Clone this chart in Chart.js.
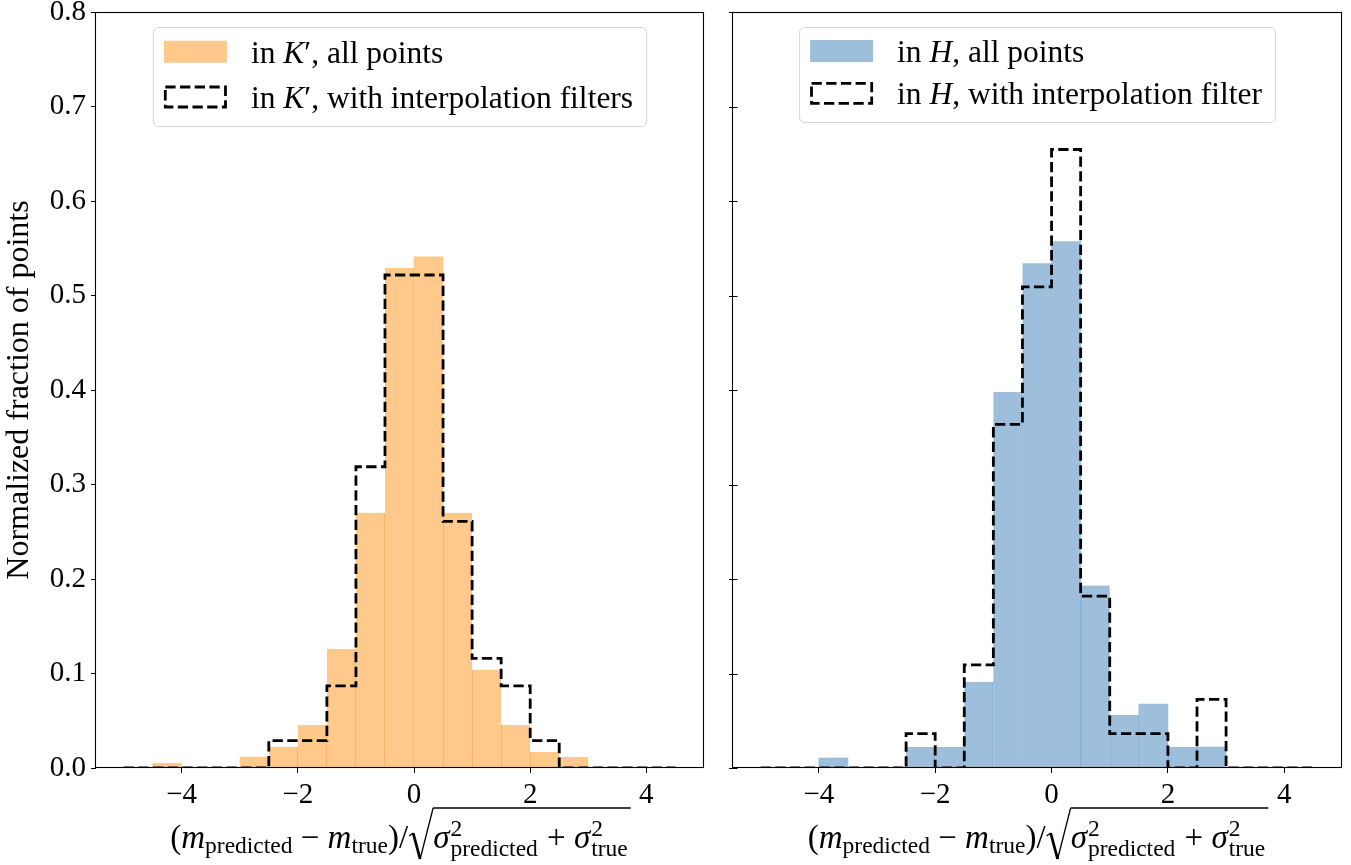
<!DOCTYPE html>
<html>
<head>
<meta charset="utf-8">
<script src="https://cdn.jsdelivr.net/npm/chart.js@4.4.1/dist/chart.umd.min.js"></script>
<style>
  html, body { margin: 0; padding: 0; background: #fff; }
  #wrap { position: relative; width: 1351px; height: 865px; }
  #c1 { position: absolute; left: 0; top: 0; }
  #c2 { position: absolute; left: 718px; top: 0; }
</style>
</head>
<body>
<div id="wrap">
  <canvas id="c1" width="718" height="865"></canvas>
  <canvas id="c2" width="633" height="865"></canvas>
</div>
<script>
// histogram bins (edges), ticks
var binEdges = [-5, -4.5, -4, -3.5, -3, -2.5, -2, -1.5, -1, -0.5, 0, 0.5, 1, 1.5, 2, 2.5, 3, 3.5, 4, 4.5];
var xTicks = [-4, -2, 0, 2, 4];
var yTicks = [0, 0.1, 0.2, 0.3, 0.4, 0.5, 0.6, 0.7, 0.8];

// K' band
var kAllPoints = [0, 0.005, 0, 0, 0.012, 0.0225, 0.0455, 0.126, 0.27, 0.529, 0.541, 0.27, 0.104, 0.0455, 0.017, 0.0116, 0, 0, 0];
var kFiltered  = [0, 0, 0, 0, 0, 0.029, 0.029, 0.087, 0.3188, 0.5217, 0.5217, 0.2609, 0.1159, 0.087, 0.029, 0, 0, 0, 0];

// H band
var hAllPoints = [0, 0, 0.0106, 0, 0, 0.0222, 0.0222, 0.091, 0.398, 0.534, 0.557, 0.193, 0.056, 0.0677, 0.0222, 0.0222, 0, 0, 0];
var hFiltered  = [0, 0, 0, 0, 0, 0.0364, 0, 0.1091, 0.3636, 0.5091, 0.6545, 0.1818, 0.0364, 0.0364, 0, 0.0727, 0, 0, 0];

// legend text pieces: [text, italic]
var kLegend = [
    [["in ", false], ["K", true], ["\u2032, all points", false]],
    [["in ", false], ["K", true], ["\u2032, with interpolation filters", false]]
];
var hLegend = [
    [["in ", false], ["H", true], [", all points", false]],
    [["in ", false], ["H", true], [", with interpolation filter", false]]
];

var yTitle = "Normalized fraction of points";
var FONT = '"Liberation Serif", "DejaVu Serif", serif';
var DASH = [10.3, 4.4];

function rm(s) { return s + "px " + FONT; }
function it(s) { return "italic " + s + "px " + FONT; }

// seam line between two neighbouring bars, as tall as the shorter one
function seams(vals) {
    return function (c) {
        var i = c.dataIndex, v = vals[i];
        var prev = i > 0 ? vals[i - 1] : 0;
        var next = i < vals.length - 1 ? vals[i + 1] : 0;
        return {
            top: 0, bottom: 0,
            left: (v > 0 && prev > 0 && v < prev) ? 1 : 0,
            right: (v > 0 && next > 0 && v <= next) ? 1 : 0
        };
    };
}

function drawXLabel(chart) {
    var ctx = chart.ctx, a = chart.chartArea;
    var F = 33, S = 23.5;
    var base = a.bottom + 80;
    var items = [
        { t: "(", f: rm(F) }, { t: "m", f: it(F) }, { t: "predicted", f: rm(S), dy: 5 },
        { t: " \u2212 ", f: rm(F) }, { t: "m", f: it(F) }, { t: "true", f: rm(S), dy: 5 },
        { t: ")/", f: rm(F) }, { rad: true, w: 25 },
        { t: "\u03c3", f: it(F) }, { sup: "2", sub: "predicted" },
        { t: " + ", f: rm(F) }, { t: "\u03c3", f: it(F) }, { sup: "2", sub: "true" }
    ];
    ctx.save();
    var total = 0;
    items.forEach(function (p) {
        if (p.rad) { p.width = p.w; }
        else if (p.sup) {
            ctx.font = rm(S);
            p.width = Math.max(ctx.measureText(p.sup).width, ctx.measureText(p.sub).width) + 2;
        } else {
            ctx.font = p.f;
            p.width = ctx.measureText(p.t).width;
        }
        total += p.width;
    });
    var x = (a.left + a.right) / 2 - total / 2;
    var top = base - 40, radX = 0;
    ctx.fillStyle = "#000";
    ctx.strokeStyle = "#000";
    ctx.textBaseline = "alphabetic";
    ctx.textAlign = "left";
    items.forEach(function (p) {
        if (p.rad) {
            radX = x;
            ctx.lineJoin = "miter";
            ctx.lineWidth = 1.3;
            ctx.beginPath();
            ctx.moveTo(x + 1, base - 12);
            ctx.lineTo(x + 5, base - 15);
            ctx.stroke();
            ctx.lineWidth = 2.8;
            ctx.beginPath();
            ctx.moveTo(x + 5, base - 15);
            ctx.lineTo(x + 12, base + 11);
            ctx.stroke();
            ctx.lineWidth = 1.3;
            ctx.beginPath();
            ctx.moveTo(x + 12, base + 11);
            ctx.lineTo(x + p.w, top);
            ctx.stroke();
        } else if (p.sup) {
            ctx.font = rm(S);
            ctx.fillText(p.sup, x + 1, base - 12);
            ctx.fillText(p.sub, x + 1, base + 8);
        } else {
            ctx.font = p.f;
            ctx.fillText(p.t, x, base + (p.dy || 0));
        }
        x += p.width;
    });
    ctx.lineWidth = 1.6;
    ctx.beginPath();
    ctx.moveTo(radX + 25, top);
    ctx.lineTo(x + 2, top);
    ctx.stroke();
    ctx.restore();
}

function drawLegend(chart, rows, fill, box) {
    var ctx = chart.ctx, a = chart.chartArea;
    var F = 31.5;
    ctx.save();
    var textW = 0;
    rows.forEach(function (r) {
        var w = 0;
        r.forEach(function (s) { ctx.font = s[1] ? it(F) : rm(F); w += ctx.measureText(s[0]).width; });
        textW = Math.max(textW, w);
    });
    var bw = 11 + 63 + 24 + textW + 13;
    var bx = (a.left + a.right) / 2 - bw / 2;
    var by = box.top, bh = box.bottom - box.top;
    ctx.fillStyle = "rgba(255,255,255,0.8)";
    ctx.strokeStyle = "#d5d5d5";
    ctx.lineWidth = 1;
    ctx.beginPath();
    ctx.roundRect(bx + 0.5, by + 0.5, bw, bh, 5);
    ctx.fill();
    ctx.stroke();
    // patch + dashed rect
    var px = bx + 11;
    ctx.fillStyle = fill;
    ctx.fillRect(px, box.rows[0] - 11, 63, 22);
    ctx.strokeStyle = "#000";
    ctx.lineWidth = 2.8;
    ctx.setLineDash(DASH);
    ctx.strokeRect(px + 1.4, box.rows[1] - 10, 60.2, 20);
    ctx.setLineDash([]);
    ctx.fillStyle = "#000";
    ctx.textBaseline = "alphabetic";
    rows.forEach(function (r, k) {
        var tx = px + 63 + 24;
        r.forEach(function (s) {
            ctx.font = s[1] ? it(F) : rm(F);
            ctx.fillText(s[0], tx, box.rows[k] + 11);
            tx += ctx.measureText(s[0]).width;
        });
    });
    ctx.restore();
}

function makeChart(id, allVals, filtVals, fill, edge, legendRows, cfg) {
    var bars = allVals.map(function (v, i) { return { x: (binEdges[i] + binEdges[i + 1]) / 2, y: v }; });
    var steps = binEdges.map(function (e, i) {
        return { x: e, y: i < filtVals.length ? filtVals[i] : filtVals[filtVals.length - 1] };
    });

    var extras = {
        id: "extras" + id,
        afterDatasetsDraw: function (chart) {
            var ctx = chart.ctx, a = chart.chartArea;
            ctx.save();
            ctx.strokeStyle = "#000";
            ctx.lineWidth = 1.1;
            ctx.strokeRect(Math.round(a.left) - 0.5, Math.round(a.top) + 0.5,
                           Math.round(a.right - a.left) + 1, Math.round(a.bottom - a.top) - 1);
            if (!cfg.yLabels) {
                var ys = chart.scales.y;
                ctx.lineWidth = 1;
                yTicks.forEach(function (t) {
                    var y = Math.round(ys.getPixelForValue(t)) + 0.5;
                    ctx.beginPath();
                    ctx.moveTo(a.left - 4, y);
                    ctx.lineTo(a.left + 4.5, y);
                    ctx.stroke();
                });
            }
            ctx.restore();
        },
        afterDraw: function (chart) {
            drawLegend(chart, legendRows, fill, cfg.box);
            drawXLabel(chart);
        }
    };

    return new Chart(id, {
        type: "bar",
        data: {
            datasets: [{
                type: "line",
                data: steps,
                stepped: "before",
                borderColor: "#000",
                borderWidth: 2.8,
                borderDash: DASH,
                pointRadius: 0,
                fill: false,
                order: 1
            }, {
                type: "bar",
                data: bars,
                backgroundColor: fill,
                borderColor: edge,
                borderWidth: seams(allVals),
                borderSkipped: false,
                barPercentage: 1,
                categoryPercentage: 1,
                order: 2
            }]
        },
        options: {
            responsive: false,
            animation: false,
            devicePixelRatio: 1,
            layout: { padding: { left: 0, right: cfg.padRight, top: 12, bottom: 0 } },
            plugins: { legend: { display: false }, tooltip: { enabled: false } },
            scales: {
                x: {
                    type: "linear",
                    offset: false,
                    min: -5.475,
                    max: 4.975,
                    afterBuildTicks: function (s) { s.ticks = xTicks.map(function (v) { return { value: v }; }); },
                    afterFit: function (s) { s.height = 97; s.paddingLeft = 0; s.paddingRight = 0; },
                    ticks: {
                        color: "#000",
                        font: { family: FONT, size: 29 },
                        padding: 5,
                        maxRotation: 0,
                        callback: function (v) { return v < 0 ? "\u2212" + Math.abs(v) : String(v); }
                    },
                    grid: { offset: false, drawOnChartArea: false, drawTicks: true, tickLength: 5, color: "#000" },
                    border: { display: false }
                },
                y: {
                    min: 0,
                    max: 0.8,
                    afterBuildTicks: function (s) { s.ticks = yTicks.map(function (v) { return { value: v }; }); },
                    afterFit: function (s) { s.width = cfg.yWidth; s.paddingTop = 0; s.paddingBottom = 0; },
                    ticks: {
                        display: cfg.yLabels,
                        color: "#000",
                        font: { family: FONT, size: 29 },
                        padding: 5,
                        callback: function (v) { return v.toFixed(1); }
                    },
                    title: {
                        display: cfg.yLabels,
                        text: yTitle,
                        color: "#000",
                        font: { family: FONT, size: 32 },
                        padding: { top: 0, bottom: 0 }
                    },
                    grid: { drawOnChartArea: false, drawTicks: cfg.yLabels, tickLength: 5, color: "#000" },
                    border: { display: false }
                }
            }
        },
        plugins: [extras]
    });
}

makeChart("c1", kAllPoints, kFiltered, "#FFC98B", "#F6AE5E", kLegend,
    { yWidth: 96, padRight: 15, yLabels: true, box: { top: 27, bottom: 126, rows: [51.7, 97] } });
makeChart("c2", hAllPoints, hFiltered, "#9DBFDC", "#6FA0CC", hLegend,
    { yWidth: 15, padRight: 10, yLabels: false, box: { top: 27, bottom: 122, rows: [51, 93.3] } });
</script>
</body>
</html>
